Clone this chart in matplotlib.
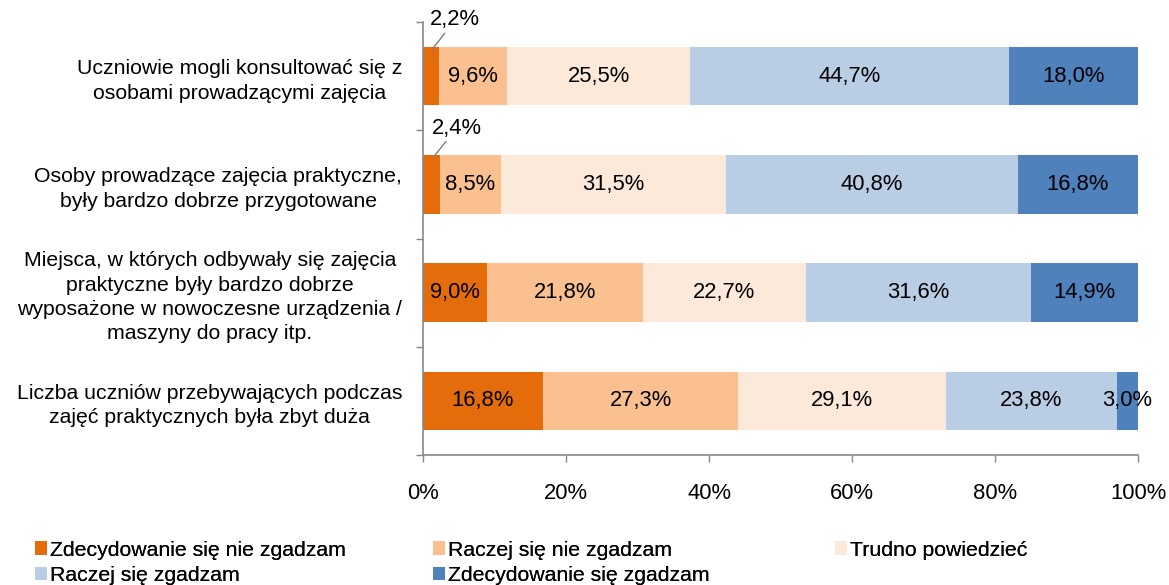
import matplotlib
matplotlib.use("Agg")
import matplotlib.pyplot as plt
from matplotlib.patches import Patch

plt.rcParams['font.family'] = ['Liberation Sans', 'DejaVu Sans']

categories = [
    "Uczniowie mogli konsultować się z\nosobami prowadzącymi zajęcia",
    "Osoby prowadzące zajęcia praktyczne,\nbyły bardzo dobrze przygotowane",
    "Miejsca, w których odbywały się zajęcia\npraktyczne były bardzo dobrze\nwyposażone w nowoczesne urządzenia /\nmaszyny do pracy itp.",
    "Liczba uczniów przebywających podczas\nzajęć praktycznych była zbyt duża",
]
series_names = [
    "Zdecydowanie się nie zgadzam",
    "Raczej się nie zgadzam",
    "Trudno powiedzieć",
    "Raczej się zgadzam",
    "Zdecydowanie się zgadzam",
]
zdecydowanie_nie = [2.2, 2.4, 9.0, 16.8]
raczej_nie = [9.6, 8.5, 21.8, 27.3]
trudno = [25.5, 31.5, 22.7, 29.1]
raczej_tak = [44.7, 40.8, 31.6, 23.8]
zdecydowanie_tak = [18.0, 16.8, 14.9, 3.0]
series = [zdecydowanie_nie, raczej_nie, trudno, raczej_tak, zdecydowanie_tak]
colors = ["#E46C0A", "#FAC090", "#FDE9D9", "#B9CDE5", "#4F81BD"]
xticks = [0, 20, 40, 60, 80, 100]
xticklabels = ["0%", "20%", "40%", "60%", "80%", "100%"]

FS = 15.3
NFS = 15.8
fig = plt.figure(figsize=(11.69, 5.85), dpi=100)
ax = fig.add_axes([423/1169, 1-455/585, (1138-423)/1169, (455-22)/585])

ypos = list(range(len(categories)))
left = [0.0]*len(categories)
for vals, col in zip(series, colors):
    ax.barh(ypos, vals, left=left, height=0.54, color=col, edgecolor='none')
    for i, (v, l) in enumerate(zip(vals, left)):
        txt = f"{v:.1f}%".replace('.', ',')
        if v < 5 and i < 2:
            # small labels above the bar with leader line
            ax.annotate(txt, xy=(l + v*0.6, i - 0.25), xytext=(l + v + 2.3, i - 0.52),
                        ha='center', va='center', fontsize=NFS, color='black',
                        arrowprops=dict(arrowstyle='-', color='#7F7F7F', lw=1,
                                        shrinkA=0, shrinkB=0),
                        annotation_clip=False)
        else:
            ax.text(l + v/2, i, txt, ha='center', va='center', fontsize=NFS, color='black')
    left = [a+b for a, b in zip(left, vals)]

ax.set_xlim(0, 100)
ax.set_ylim(3.5, -0.5)
ax.set_xticks(xticks)
ax.set_xticklabels(xticklabels, fontsize=NFS)
ax.set_yticks(ypos)
ax.set_yticklabels(categories, fontsize=FS, multialignment='center', linespacing=1.36)
ax.set_yticks([-0.5, 0.5, 1.5, 2.5, 3.5], minor=True)
ax.tick_params(axis='y', which='major', length=0, pad=15)
ax.tick_params(axis='y', which='minor', length=5, width=1, color='#888888', direction='out')
ax.tick_params(axis='x', length=5, width=1, color='#888888', direction='out', pad=15)
for s in ['top', 'right']:
    ax.spines[s].set_visible(False)
for s in ['left', 'bottom']:
    ax.spines[s].set_color('#888888')
    ax.spines[s].set_linewidth(1.2)

handles = [Patch(facecolor=c, edgecolor='none') for c in colors]
columns = [[0, 3], [1, 4], [2]]
col_x = [26, 424, 826]
for cx, idx in zip(col_x, columns):
    leg = fig.legend([handles[k] for k in idx], [series_names[k] for k in idx],
                     loc='upper left', bbox_to_anchor=(cx/1169, 1-532/585), ncol=1,
                     frameon=False, fontsize=FS, handlelength=0.6, handleheight=0.6,
                     handletextpad=0.15, labelspacing=0.3, borderaxespad=0)
    fig.add_artist(leg)

fig.savefig("out.png", dpi=100)
